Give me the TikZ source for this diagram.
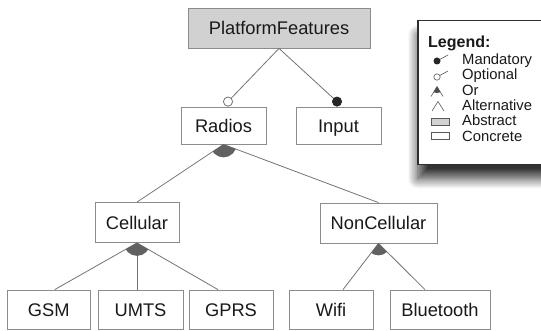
\documentclass[tikz,border=0pt]{standalone}
\usepackage{fontspec}
\setmainfont{Liberation Sans}
\usetikzlibrary{shadows.blur}
\definecolor{boxline}{gray}{0.55}
\definecolor{edgeline}{gray}{0.45}
\definecolor{absfill}{gray}{0.82}
\definecolor{orfill}{gray}{0.38}
\definecolor{legline}{gray}{0.18}
\definecolor{iconline}{gray}{0.35}

\begin{document}
\begin{tikzpicture}[x=1pt,y=-1pt,
  feature/.style={draw=boxline, line width=0.8pt, fill=white, inner sep=0pt,
    font=\fontsize{18.3}{20}\selectfont, text=black!90,
    text height=13.1pt, text depth=0pt},
  abstractfeat/.style={feature, fill=absfill},
  edge/.style={draw=edgeline, line width=0.8pt},
  legtext/.style={anchor=west, inner sep=0pt, font=\fontsize{14.8}{15}\selectfont,
    text=black!90, text height=10.6pt, text depth=0pt},
  icon/.style={draw=iconline, line width=0.6pt}]

\useasboundingbox (0,0) rectangle (541,331);

% ---------- feature nodes ----------
\node[abstractfeat, minimum width=182pt, minimum height=40pt] (pf) at (279,28) {PlatformFeatures};
\node[feature, minimum width=85pt, minimum height=37pt] (radios) at (223.5,125.5) {Radios};
\node[feature, minimum width=85pt, minimum height=37pt] (input) at (338.5,125.5) {Input};
\node[feature, minimum width=84pt, minimum height=40pt] (cellular) at (137,222.5) {Cellular};
\node[feature, minimum width=117pt, minimum height=40pt] (noncell) at (378.5,223) {NonCellular};
\node[feature, minimum width=82.5pt, minimum height=39pt] (gsm) at (48.75,309.5) {GSM};
\node[feature, minimum width=85pt, minimum height=39pt] (umts) at (140.5,309.5) {UMTS};
\node[feature, minimum width=84pt, minimum height=39pt] (gprs) at (231,309.5) {GPRS};
\node[feature, minimum width=84pt, minimum height=39pt] (wifi) at (331,309.5) {Wifi};
\node[feature, minimum width=100pt, minimum height=39pt] (bt) at (440,309.5) {Bluetooth};

% ---------- optional / mandatory edges ----------
\coordinate (optc) at ([xshift=4.5pt,yshift=5pt]radios.north);
\coordinate (mandc) at ([xshift=-1.5pt,yshift=5pt]input.north);
\draw[edge] (pf.south) -- (optc);
\draw[edge] (pf.south) -- (mandc);
\draw[edgeline, line width=0.8pt, fill=white] (optc) circle[radius=4.6pt];
\draw[black!85, line width=0.8pt, fill=black!85] (mandc) circle[radius=4.6pt];

% ---------- or-groups ----------
% Radios
\draw[edge] (radios.south) -- (cellular.north);
\draw[edge] (radios.south) -- (noncell.north);
\begin{scope}
  \clip (radios.south) -- (cellular.north) -- (noncell.north) -- cycle;
  \fill[orfill] (radios.south) circle[radius=13pt];
\end{scope}

% Cellular
\coordinate (gsmin) at ([xshift=6pt]gsm.north);
\coordinate (umtsin) at (cellular.south |- umts.north);
\coordinate (gprsin) at ([xshift=-13pt]gprs.north);
\draw[edge] (cellular.south) -- (gsmin);
\draw[edge] (cellular.south) -- (umtsin);
\draw[edge] (cellular.south) -- (gprsin);
\begin{scope}
  \clip (cellular.south) -- (gsmin) -- (gprsin) -- cycle;
  \fill[orfill] (cellular.south) circle[radius=13pt];
\end{scope}

% NonCellular
\coordinate (wifiin) at ([xshift=12pt]wifi.north);
\coordinate (btin) at ([xshift=-15pt]bt.north);
\draw[edge] (noncell.south) -- (wifiin);
\draw[edge] (noncell.south) -- (btin);
\begin{scope}
  \clip (noncell.south) -- (wifiin) -- (btin) -- cycle;
  \fill[orfill] (noncell.south) circle[radius=12pt];
\end{scope}

% ---------- legend ----------
\begin{scope}
  \clip (0,0) rectangle (541,331);
  \node[draw=legline, line width=1.5pt, fill=white, anchor=north west,
        minimum width=135pt, minimum height=144pt, inner sep=0pt,
        blur shadow={shadow xshift=0pt, shadow yshift=-14pt,
                     shadow blur radius=10pt, shadow blur steps=14,
                     shadow opacity=80}] (legend) at (417,20) {};
\end{scope}

\node[anchor=west, inner sep=0pt, font=\bfseries\fontsize{16}{17}\selectfont,
      text=black!90, text height=11.5pt, text depth=0pt] (legtitle) at (428,42) {Legend:};

\node[legtext] (lmand) at (462,59) {Mandatory};
\node[legtext] (lopt)  at (462,74.4) {Optional};
\node[legtext] (lor)   at (462,89.8) {Or};
\node[legtext] (lalt)  at (462,105.2) {Alternative};
\node[legtext] (labs)  at (462,120.6) {Abstract};
\node[legtext] (lcon)  at (462,136) {Concrete};

% legend icons
\draw[icon] (437,61) -- (448,55);
\fill[black!85] (437,61) circle[radius=3.5pt];
\draw[icon] (437,77) -- (448,71);
\draw[icon, fill=white] (437,77) circle[radius=3.2pt];
\draw[icon] (431,96.5) -- (437,86.5) -- (443,96.5);
\begin{scope}
  \clip (437,86.5) -- (431,96.5) -- (443,96.5) -- cycle;
  \fill[black!70] (437,86.5) circle[radius=6.5pt];
\end{scope}
\draw[icon] (432,111) -- (438,101.5) -- (444,111);
\draw[icon, fill=absfill] (431,118.5) rectangle (449,125);
\draw[icon, fill=white] (431,132.5) rectangle (449,139);

\end{tikzpicture}
\end{document}
